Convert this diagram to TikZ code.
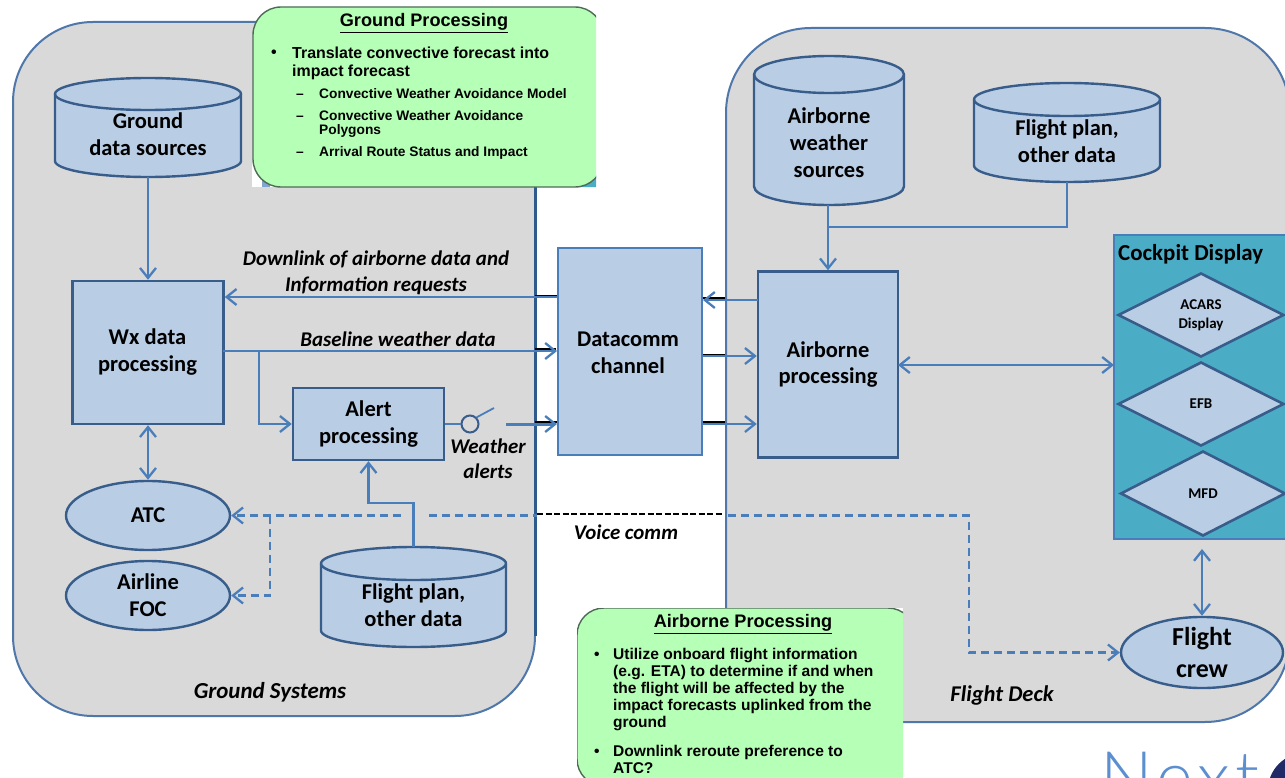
\documentclass[tikz,border=0pt]{standalone}
\usepackage{fontspec}
\setmainfont{Carlito}
\newfontfamily\arialf{Liberation Sans}
\newfontfamily\logof[LetterSpace=7]{Lato Light}
\usetikzlibrary{arrows.meta,shapes.geometric,calc}
\definecolor{panelfill}{HTML}{D9D9D9}
\definecolor{panelline}{HTML}{4F77AA}
\definecolor{paneldark}{HTML}{2E5A8C}
\definecolor{boxfill}{HTML}{B9CDE5}
\definecolor{boxline}{HTML}{385D8A}
\definecolor{conn}{HTML}{4A7EBB}
\definecolor{teal}{HTML}{4BACC6}
\definecolor{callout}{HTML}{B6FFB6}
\definecolor{calloutline}{HTML}{4F6B58}
\definecolor{logoblue}{HTML}{5B8FD0}
\definecolor{logodark}{HTML}{1F2A66}
\tikzset{
  tip/.tip={Straight Barb[length=10bp,width=16bp,line width=2.3bp]},
  conline/.style={draw=conn,line width=2.3bp},
  arr/.style={conline,-{tip}},
  darr/.style={conline,{tip}-{tip}},
  dashln/.style={draw=conn,line width=2.3bp,dash pattern=on 8bp off 5bp},
  dasharr/.style={dashln,-{tip}},
  stub/.style={draw=black,line width=2bp},
  lbl/.style={font=\bfseries\fontsize{22.6}{27}\selectfont},
  boxn/.style={rectangle,draw=boxline,fill=boxfill,line width=2.4bp,inner sep=0pt,align=center,lbl},
  elln/.style={ellipse,draw=boxline,fill=boxfill,line width=2.4bp,inner sep=0pt,align=center,lbl},
  dia/.style={diamond,draw=boxline,fill=boxfill,line width=2.6bp,inner sep=0pt,align=center,font=\bfseries\fontsize{15}{19}\selectfont,aspect=2},
  ital/.style={align=center,font=\bfseries\itshape\fontsize{21}{26}\selectfont},
  panel/.style={draw=panelline,fill=panelfill,line width=2bp},
  coll/.style={fill=callout,draw=calloutline,line width=1.4bp},
  ctitle/.style={font=\arialf\bfseries\fontsize{18.2}{20}\selectfont},
  cmain/.style={anchor=base west,align=left,inner sep=0pt,font=\arialf\bfseries\fontsize{16}{18}\selectfont},
  cair/.style={anchor=base west,align=left,inner sep=0pt,font=\arialf\bfseries\fontsize{15.6}{17}\selectfont},
  csub/.style={anchor=base west,align=left,inner sep=0pt,font=\arialf\bfseries\fontsize{13.8}{14}\selectfont},
}
\newcommand{\drumshape}[8]{%
  \filldraw[draw=boxline,fill=boxfill,line width=2.4bp]
    (#2,#4+#6) -- (#2,#5-#6)
    arc[start angle=180,end angle=0,x radius={(#3-#2)/2},y radius=#6]
    -- (#3,#4+#6)
    arc[start angle=0,end angle=-180,x radius={(#3-#2)/2},y radius=#6] -- cycle;
  \draw[draw=boxline,line width=2.4bp] (#2,#4+#6)
    arc[start angle=180,end angle=0,x radius={(#3-#2)/2},y radius=#6];
  \node[inner sep=0pt,minimum width={(#3-#2)*1bp},minimum height={(#5-#4)*1bp}] (#1) at ({(#2+#3)/2},{(#4+#5)/2}) {};
  \node[lbl,align=center,inner sep=0pt] (#1t) at ({(#2+#3)/2},#7) {#8};
}
\begin{document}
\begin{tikzpicture}[x=1bp,y=-1bp]
\path[use as bounding box,clip] (0,0) rectangle (1285,778);
\fill[white] (0,0) rectangle (1285,778);

% panels
\filldraw[panel,rounded corners=80bp] (13,22) rectangle (535,716);
\draw[draw=paneldark,line width=3bp] (535,180) -- (535,636);
\filldraw[panel,rounded corners=85bp] (726,28) rectangle (1290,722);

% black stubs behind the connectors
\draw[stub] (535,296) -- (558,296);
\draw[stub] (535,349) -- (556,349);
\draw[stub] (535,422) -- (558,422);
\draw[stub] (702,298) -- (725,298);
\draw[stub] (702,355) -- (725,355);
\draw[stub] (702,422) -- (725,422);

% nodes
\drumshape{gds}{55}{241}{78}{177}{16}{134.5}{Ground\\data sources}
\drumshape{fpg}{321}{506}{547}{647}{16.5}{605.5}{Flight plan,\\other data}
\drumshape{aws}{754}{904}{56}{205}{18.5}{142.5}{Airborne\\weather\\sources}
\drumshape{fpa}{974}{1160}{83}{182}{16.5}{141.5}{Flight plan,\\other data}

\node[boxn,minimum width=151bp,minimum height=143bp] (wx) at (148,352.5) {};
\node[lbl,align=center,inner sep=0pt] (wxt) at (147.5,352) {Wx data\\processing};
\node[boxn,minimum width=151bp,minimum height=72bp] (alert) at (368.5,424) {Alert\\processing};
\draw[stub] (558,248) -- (702,248) -- (702,455);
\node[rectangle,draw=conn,fill=boxfill,line width=2bp,inner sep=0pt,align=center,lbl,minimum width=144bp,minimum height=207bp] (dc) at (630,351.5) {};
\node[lbl,align=center,inner sep=0pt] (dct) at (628,352.5) {Datacomm\\channel};
\node[boxn,minimum width=140bp,minimum height=186bp] (ap) at (828,364.5) {Airborne\\processing};
\node[elln,minimum width=164bp,minimum height=69bp] (atc) at (148,515.5) {ATC};
\node[elln,minimum width=164bp,minimum height=69bp] (foc) at (148,595.5) {Airline\\FOC};
\node[elln,minimum width=162bp,minimum height=69bp,font=\bfseries\fontsize{26}{32}\selectfont] (crew) at (1202,652.5) {Flight\\crew};

\filldraw[draw=conn,fill=teal,line width=2bp] (1114,235) rectangle (1300,539);
\node[anchor=west,inner sep=0pt,font=\bfseries\fontsize{23}{25}\selectfont] (cdt) at (1118,254) {Cockpit Display};
\coordinate (cd) at (1114,365);
\coordinate (cdb) at (1202,549);
\node[dia,minimum width=166bp,minimum height=84bp] (acars) at (1201,315) {ACARS\\Display};
\node[dia,minimum width=166bp,minimum height=84bp] (efb) at (1201,404) {EFB};
\node[dia,minimum width=165bp,minimum height=85bp] (mfd) at (1203,493.5) {MFD};

% switch
\node[circle,draw=boxline,fill=panelfill,line width=2bp,minimum size=17bp,inner sep=0pt] (sw) at (470,424) {};
\coordinate (bladeend) at (494,408);
\coordinate (swout) at (506,424);

% connectors
\draw[arr] (gds.south) -- (wx.north);
\draw[darr] (wx.south) -- (atc.north);
\coordinate (dl) at (558,297);
\draw[arr] (dl) -- (dl -| wx.east);
\coordinate (bl) at (223,351);
\draw[arr] (bl) -- (bl -| dc.west);
\coordinate (bj) at (259,351);
\draw[arr] (bj) |- (alert.west);
\coordinate (fj) at (413.5,503);
\draw[arr] (fpg.north) -- (fj) -| (alert.south);
\draw[conline] (alert.east) -- (sw.west);
\draw[conline,line width=1.8bp] (sw.north east) -- (bladeend);
\draw[arr,line width=3bp] (swout) -- (swout -| dc.west);

\coordinate (ap1) at (758,300);
\draw[arr] (ap1) -- (ap1 -| dc.east);
\coordinate (ap2) at (702,356);
\draw[arr] (ap2) -- (ap2 -| ap.west);
\coordinate (ap3) at (702,424);
\draw[arr] (ap3) -- (ap3 -| ap.west);
\draw[arr] (aws.south -| ap.north) -- (ap.north);
\coordinate (fa) at (828,227);
\draw[conline] (fpa.south) |- (fa);
\coordinate (apr) at (898,365);
\draw[darr] (apr) -- (cd);
\draw[darr] (cdb) -- (crew.north);

% dashed voice lines
\coordinate (v1) at (401,515.5);
\draw[dasharr] (v1) -- (atc.east);
\coordinate (vb) at (270,515.5);
\draw[dasharr] (vb) |- (foc.east);
\coordinate (v2) at (429,515.5);
\coordinate (v3) at (969,515.5);
\draw[dasharr] (v2) -- (v3) |- (crew.west);
\draw[draw=white,line width=4bp] (537,515) -- (724,515);
\draw[draw=black,line width=2.4bp,dash pattern=on 6bp off 2.5bp] (537,514) -- (723,514);

% labels
\node[ital] (t1) at (376,272.5) {Downlink of airborne data and\\Information requests};
\node[ital] (t2) at (398,339) {Baseline weather data};
\node[ital,font=\bfseries\itshape\fontsize{21}{25}\selectfont] (t3) at (488,459) {Weather\\alerts};
\node[ital] (t4) at (626,532) {Voice comm};
\node[ital,font=\bfseries\itshape\fontsize{23}{26}\selectfont] (t5) at (270,692) {Ground Systems};
\node[ital,font=\bfseries\itshape\fontsize{22.6}{26}\selectfont] (t6) at (1002,695) {Flight Deck};

% ground processing callout
\begin{scope}
\clip (252,5) rectangle (596,187);
\fill[white] (252,160) rectangle (596,187);
\fill[conn!70!white] (262,172) rectangle (270,187);
\fill[teal] (596,175) -- (596,187) -- (580,187) -- cycle;
\filldraw[coll,rounded corners=28bp] (253,7) rectangle (603,187);
\end{scope}
\node[ctitle,inner sep=0pt] (gpt) at (424,23) {\underline{Ground Processing}};
\node[cmain] (gb) at (271,58) {•};
\node[cmain] (gm) at (292,76.5) {Translate convective forecast into\\impact forecast};
\node[csub] (gd1) at (296,98.5) {–};
\node[csub] (gs1) at (319,98.5) {Convective Weather Avoidance Model};
\node[csub] (gd2) at (296,120.5) {–};
\node[csub] (gs2) at (319,134.5) {Convective Weather Avoidance\\Polygons};
\node[csub] (gd3) at (296,156) {–};
\node[csub] (gs3) at (319,156) {Arrival Route Status and Impact};

% airborne processing callout
\begin{scope}
\clip (577,608) rectangle (903,778);
\fill[white] (577,608) rectangle (903,778);
\filldraw[coll,rounded corners=27bp] (577,608) rectangle (915,786);
\end{scope}
\node[ctitle,inner sep=0pt] (apt) at (743,624) {\underline{Airborne Processing}};
\node[cair] (ab1) at (594,659) {•};
\node[cair] (am1) at (613,727) {Utilize onboard flight information\\(e.g. ETA) to determine if and when\\the flight will be affected by the\\impact forecasts uplinked from the\\ground};
\node[cair] (ab2) at (594,756) {•};
\node[cair] (am2) at (613,773) {Downlink reroute preference to\\ATC?};

% logo
\fill[logodark] (1305,790) circle (37);
\node[anchor=base west,inner sep=0pt,text=logoblue,font=\logof\fontsize{70}{70}\selectfont] (logo) at (1100,801) {Next};
\end{tikzpicture}
\end{document}
